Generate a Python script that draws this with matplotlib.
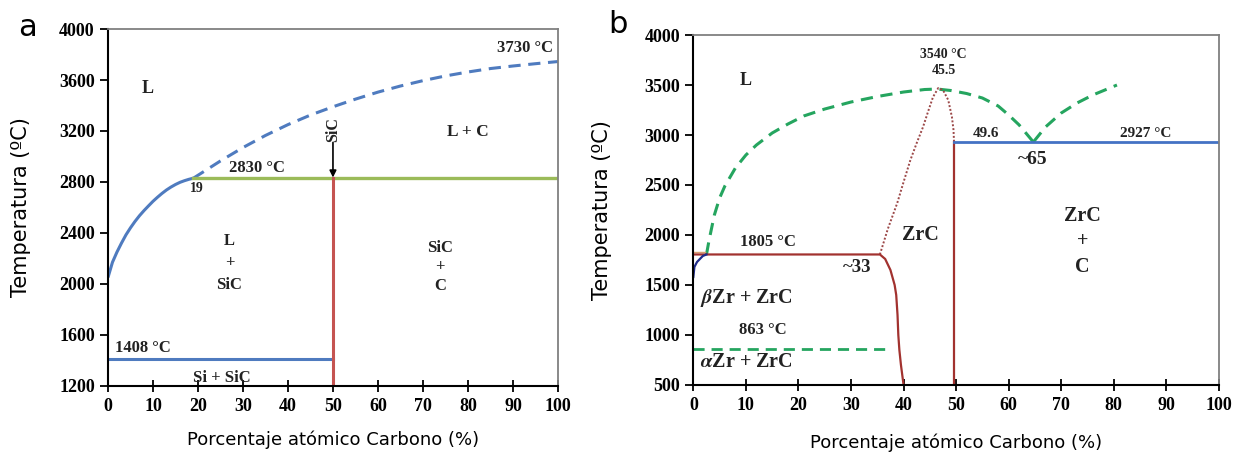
import matplotlib
matplotlib.use("Agg")
import matplotlib.pyplot as plt

plt.rcParams.update({
    "font.family": "serif",
    "font.serif": ["Liberation Serif", "DejaVu Serif"],
    "font.weight": "bold",
    "mathtext.fontset": "stix",
})

# ---- panel a: Si-C ----
a_liq_x = [0, 1, 2, 3, 4, 5, 6, 7, 8, 9, 10, 11, 12, 13, 14, 15, 16, 17, 18, 19]
a_liq_t = [2050, 2170, 2250, 2320, 2385, 2440, 2490, 2535, 2575, 2612, 2648,
           2680, 2710, 2737, 2760, 2780, 2797, 2810, 2821, 2830]
a_dash_x = [19, 25, 30, 35, 40, 45, 50, 55, 60, 65, 70, 75, 80, 85, 90, 95, 100]
a_dash_t = [2830, 2965, 3070, 3165, 3250, 3325, 3390, 3450, 3505, 3553, 3595,
            3632, 3663, 3690, 3710, 3728, 3745]
a_peritectic_t = 2830
a_peritectic_x = [19, 100]
a_eutectic_t = 1408
a_eutectic_x = [0, 50]
a_sic_x = 50
a_sic_t = [1200, 2830]

# ---- panel b: Zr-C ----
b_liq1_x = [2.5, 3, 4, 5, 6, 8, 10, 12, 15, 18, 21, 25, 30, 35, 40, 44, 46.4,
            49, 52, 55, 58, 60, 62, 64.7]
b_liq1_t = [1805, 1950, 2200, 2370, 2490, 2670, 2800, 2900, 3020, 3110, 3190,
            3260, 3330, 3385, 3430, 3455, 3460, 3445, 3415, 3370, 3290, 3200,
            3100, 2930]
b_liq2_x = [64.7, 67, 70, 73, 76, 80.6]
b_liq2_t = [2930, 3080, 3220, 3320, 3400, 3500]
b_zrc_top_x = [35.5, 37, 38.8, 40, 41.3, 42.5, 43.7, 44.7, 45.6, 46.6, 47.5,
               48.5, 49.2, 49.5, 49.6]
b_zrc_top_t = [1805, 2060, 2320, 2530, 2750, 2920, 3080, 3240, 3380, 3470, 3450,
               3350, 3180, 3050, 2930]
b_zrc_left_x = [0, 35.5, 36.5, 37.5, 38.3, 38.6, 38.85, 39.0, 39.2, 39.5, 39.8, 40]
b_zrc_left_t = [1805, 1805, 1760, 1650, 1500, 1400, 1200, 1000, 850, 700, 580, 500]
b_zr_x = [0, 0.2, 0.7, 1.8, 2.5]
b_zr_t = [1580, 1680, 1730, 1790, 1805]
b_orange_x = [0, 2.2]
b_orange_t = [1830, 1830]
b_alpha_t = 863
b_alpha_x = [0, 37.5]
b_zrc_right_x = 49.6
b_zrc_right_t = [500, 2927]
b_eut_t = 2927
b_eut_x = [49.6, 100]

BLUE = "#4F7BBF"
GREEN = "#9BBB59"
RED = "#C55451"
GREEN_B = "#25A55F"
RED_B = "#A2322F"
NAVY = "#1F2B8A"

fig = plt.figure(figsize=(12.41, 4.61), dpi=100)
ax1 = fig.add_axes([0.087, 0.163, 0.3626, 0.774])
ax2 = fig.add_axes([0.5587, 0.165, 0.4235, 0.759])


def style_axes(ax, yticks):
    ax.set_xlim(0, 100)
    ax.set_xticks(range(0, 101, 10))
    ax.set_ylim(yticks[0], yticks[-1])
    ax.set_yticks(yticks)
    ax.tick_params(axis="x", direction="inout", length=8, width=1.3, labelsize=13, pad=5)
    ax.tick_params(axis="y", direction="out", length=6, width=1.3, labelsize=13)
    for s in ("left", "bottom"):
        ax.spines[s].set_color("black")
        ax.spines[s].set_linewidth(1.5)
    for s in ("top", "right"):
        ax.spines[s].set_color("#808080")
        ax.spines[s].set_linewidth(1.3)
    ax.set_xlabel("Porcentaje atómico Carbono (%)", family="DejaVu Sans",
                  fontweight="normal", fontsize=13)
    ax.set_ylabel("Temperatura (ºC)", family="DejaVu Sans",
                  fontweight="normal", fontsize=15)


style_axes(ax1, list(range(1200, 4001, 400)))
style_axes(ax2, list(range(500, 4001, 500)))
ax1.xaxis.set_label_coords(0.5, -0.125)
ax1.yaxis.set_label_coords(-0.17, 0.5)
ax2.xaxis.set_label_coords(0.5, -0.14)
ax2.yaxis.set_label_coords(-0.155, 0.5)

# panel a lines
ax1.plot(a_liq_x, a_liq_t, color=BLUE, lw=2.2, solid_capstyle="butt")
ax1.plot(a_dash_x, a_dash_t, color=BLUE, lw=2.2, dashes=(4, 2.5))
ax1.plot(a_peritectic_x, [a_peritectic_t] * 2, color=GREEN, lw=2.4)
ax1.plot(a_eutectic_x, [a_eutectic_t] * 2, color=BLUE, lw=2.2)
ax1.plot([a_sic_x] * 2, a_sic_t, color=RED, lw=2.2)
ax1.annotate("", xy=(50, 2835), xytext=(50, 3110),
             arrowprops=dict(arrowstyle="-|>", color="black", lw=1.2,
                             mutation_scale=10, shrinkA=0, shrinkB=0))

tk = dict(ha="center", va="center", color="#222222")
ax1.text(50, 3215, "SiC", rotation=90, fontsize=11.5, **tk)
ax1.text(8.9, 3530, "L", fontsize=13, **tk)
ax1.text(33, 2910, "2830 °C", fontsize=12, **tk)
ax1.text(19.7, 2750, "19", fontsize=10, **tk)
ax1.text(99, 3850, "3730 °C", fontsize=12, ha="right", va="center", color="#222222")
ax1.text(80, 3192, "L + C", fontsize=12.5, **tk)
ax1.text(27, 2165, "L\n+\nSiC", fontsize=12, linespacing=1.5, **tk)
ax1.text(73.8, 2130, "SiC\n+\nC", fontsize=12, linespacing=1.25, **tk)
ax1.text(1.5, 1498, "1408 °C", fontsize=12, ha="left", va="center", color="#222222")
ax1.text(25.3, 1265, "Si + SiC", fontsize=12, **tk)

# panel b lines
ax2.plot(b_liq1_x, b_liq1_t, color=GREEN_B, lw=2.2, dashes=(4, 2.5))
ax2.plot(b_liq2_x, b_liq2_t, color=GREEN_B, lw=2.2, dashes=(4, 2.5))
ax2.plot(b_zrc_top_x, b_zrc_top_t, color="#9C4848", lw=1.4, ls=(0, (1, 1)))
ax2.plot(b_orange_x, b_orange_t, color="#D8A070", lw=1.0)
ax2.plot(b_zrc_left_x, b_zrc_left_t, color=RED_B, lw=1.6)
ax2.plot(b_zr_x, b_zr_t, color=NAVY, lw=1.6)
ax2.plot(b_alpha_x, [b_alpha_t] * 2, color=GREEN_B, lw=2.0, dashes=(4, 2.5))
ax2.plot([b_zrc_right_x] * 2, b_zrc_right_t, color=RED_B, lw=1.6)
ax2.plot(b_eut_x, [b_eut_t] * 2, color="#4472C4", lw=2.0)

ax2.text(9.9, 3550, "L", fontsize=13, **tk)
ax2.text(47.6, 3805, "3540 °C", fontsize=10, **tk)
ax2.text(47.6, 3650, "45.5", fontsize=10, **tk)
ax2.text(55.6, 3020, "49.6", fontsize=11, **tk)
ax2.text(86, 3020, "2927 °C", fontsize=11, **tk)
ax2.text(64.5, 2750, "~65", fontsize=14, **tk)
ax2.text(43.2, 2000, "ZrC", fontsize=14.5, **tk)
ax2.text(74, 1935, "ZrC\n+\nC", fontsize=14.5, linespacing=1.35, **tk)
ax2.text(14.2, 1930, "1805 °C", fontsize=12, **tk)
ax2.text(31.1, 1670, "~33", fontsize=13.5, **tk)
ax2.text(1.3, 1370, r"$\mathbfit{\beta}$Zr + ZrC", fontsize=14.5, ha="left",
         va="center", color="#222222")
ax2.text(13.3, 1050, "863 °C", fontsize=12, **tk)
ax2.text(1.3, 730, r"$\mathbfit{\alpha}$Zr + ZrC", fontsize=14.5, ha="left",
         va="center", color="#222222")

fig.text(0.022, 0.94, "a", fontsize=22, family="DejaVu Sans",
         fontweight="normal", ha="center", va="center")
fig.text(0.498, 0.946, "b", fontsize=22, family="DejaVu Sans",
         fontweight="normal", ha="center", va="center")

fig.savefig("out.png", dpi=100)
